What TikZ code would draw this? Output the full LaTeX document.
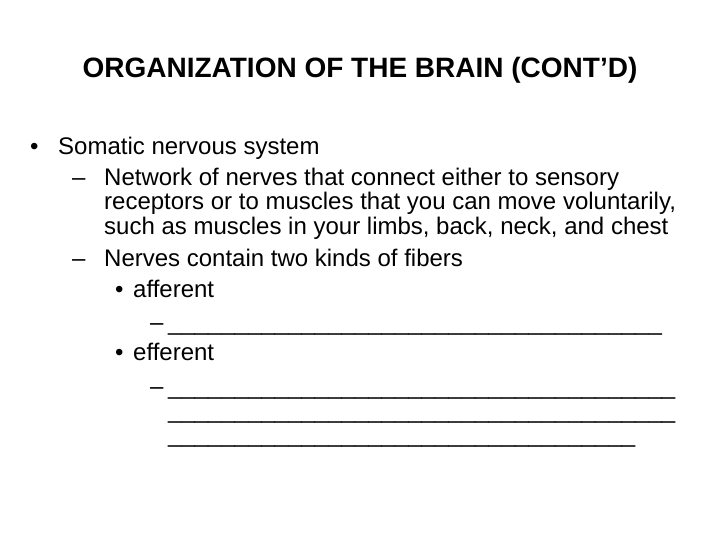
\documentclass[tikz,border=0pt]{standalone}
\usepackage{fontspec}
\setmainfont{Liberation Sans}
\begin{document}
\begin{tikzpicture}[x=1pt,y=-1pt,
    txt/.style={anchor=base west, inner sep=0pt, font=\fontsize{24}{28}\selectfont}
    ]
\useasboundingbox (0,0) rectangle (720,540);
\node[anchor=base, inner sep=0pt, font=\fontsize{28}{32}\selectfont\bfseries] (title) at (360,78) {ORGANIZATION OF THE BRAIN (CONT’D)};

\node[txt] (b1) at (30,155) {•};
\node[txt] (t1) at (58,155) {Somatic nervous system};
\node[txt] (d1) at (72,186) {–};
\node[txt] (t2) at (104,186) {Network of nerves that connect either to sensory};
\node[txt] (t3) at (104,210) {receptors or to muscles that you can move voluntarily,};
\node[txt] (t4) at (104,234) {such as muscles in your limbs, back, neck, and chest};
\node[txt] (d2) at (72,266) {–};
\node[txt] (t5) at (104,266) {Nerves contain two kinds of fibers};
\node[txt] (b2) at (115,297) {•};
\node[txt] (t6) at (133,297) {afferent};
\node[txt] (d3) at (150,330) {–};
\node[txt] (u1) at (168,330) {\_\_\_\_\_\_\_\_\_\_\_\_\_\_\_\_\_\_\_\_\_\_\_\_\_\_\_\_\_\_\_\_\_\_\_\_\_};
\node[txt] (b3) at (115,360) {•};
\node[txt] (t7) at (133,360) {efferent};
\node[txt] (d4) at (150,394) {–};
\node[txt] (u2) at (168,394) {\_\_\_\_\_\_\_\_\_\_\_\_\_\_\_\_\_\_\_\_\_\_\_\_\_\_\_\_\_\_\_\_\_\_\_\_\_\_};
\node[txt] (u3) at (168,418) {\_\_\_\_\_\_\_\_\_\_\_\_\_\_\_\_\_\_\_\_\_\_\_\_\_\_\_\_\_\_\_\_\_\_\_\_\_\_};
\node[txt] (u4) at (168,442) {\_\_\_\_\_\_\_\_\_\_\_\_\_\_\_\_\_\_\_\_\_\_\_\_\_\_\_\_\_\_\_\_\_\_\_};
\end{tikzpicture}
\end{document}
